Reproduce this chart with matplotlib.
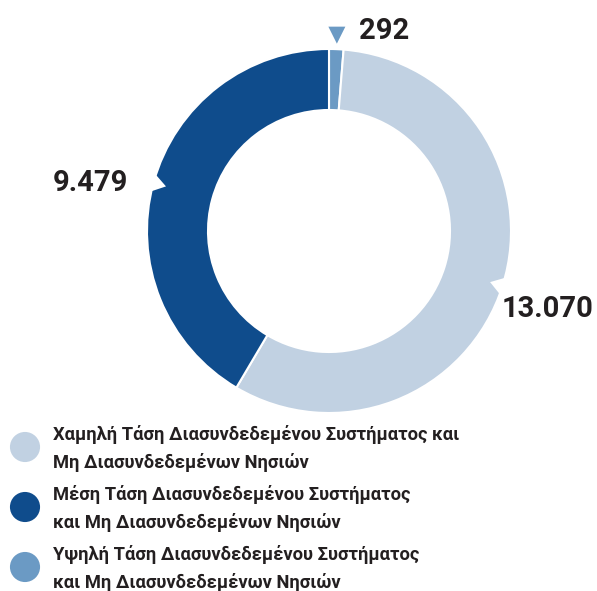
import numpy as np
import matplotlib.pyplot as plt
from matplotlib.patches import Polygon

# values, clockwise from the top
values = [292, 13070, 9479]
value_labels = ["292", "13.070", "9.479"]
colors = ["#6b9ac4", "#c1d1e2", "#0f4c8c"]
legend_labels = [
    "Χαμηλή Τάση Διασυνδεδεμένου Συστήματος και\nΜη Διασυνδεδεμένων Νησιών",
    "Μέση Τάση Διασυνδεδεμένου Συστήματος\nκαι Μη Διασυνδεδεμένων Νησιών",
    "Υψηλή Τάση Διασυνδεδεμένου Συστήματος\nκαι Μη Διασυνδεδεμένων Νησιών",
]
legend_colors = ["#c1d1e2", "#0f4c8c", "#6b9ac4"]

txt_color = "#231f20"

W, H = 597, 591
fig = plt.figure(figsize=(W / 100, H / 100), dpi=100)
ax = fig.add_axes([0, 0, 1, 1])

# pixel-like coords (y up)
cx, cy = 329, H - 231
R, ring = 182, 61

wedges, _ = ax.pie(values, colors=colors, startangle=90, counterclock=False,
                   center=(cx, cy), radius=R,
                   wedgeprops=dict(width=ring, edgecolor="white", linewidth=1.5))

# mid angle of each wedge
total = sum(values)
start = 90.0
mids = []
for v in values:
    mids.append(np.deg2rad(start - v / total * 180))
    start -= v / total * 360

# small white notches on the outer edge
for i in (1, 2):
    a = mids[i]
    u = np.array([np.cos(a), np.sin(a)])
    n = np.array([-np.sin(a), np.cos(a)])
    base = np.array([cx, cy]) + u * (R + 2)
    tip = np.array([cx, cy]) + u * (R - 13)
    ax.add_patch(Polygon([base + n * 10, base - n * 10, tip], closed=True,
                         facecolor="white", edgecolor="none", zorder=5))

# value labels
num_kw = dict(fontsize=21, fontweight="bold", family="Roboto", color=txt_color, va="center")
ax.text(593, H - 309, value_labels[1], ha="right", **num_kw)
ax.text(128, H - 183, value_labels[2], ha="right", **num_kw)
ax.text(359, H - 31, value_labels[0], ha="left", **num_kw)
a0 = mids[0]
ax.scatter([cx + (R + 14) * np.cos(a0)], [cy + (R + 14) * np.sin(a0)],
           marker="v", s=150, color=colors[0], edgecolors="none", zorder=6)

# legend
leg_y = [447, 507, 567]
for lbl, col, y in zip(legend_labels, legend_colors, leg_y):
    ax.scatter([25], [H - y], s=470, color=col, edgecolors="none")
    ax.text(53, H - y - 1.5, lbl, fontsize=13.2, fontweight="bold", family="Roboto",
            color=txt_color, ha="left", va="center", linespacing=1.62)

ax.set_xlim(0, W)
ax.set_ylim(0, H)
ax.set_aspect("auto")
ax.axis("off")

plt.savefig("out.png", dpi=100)
